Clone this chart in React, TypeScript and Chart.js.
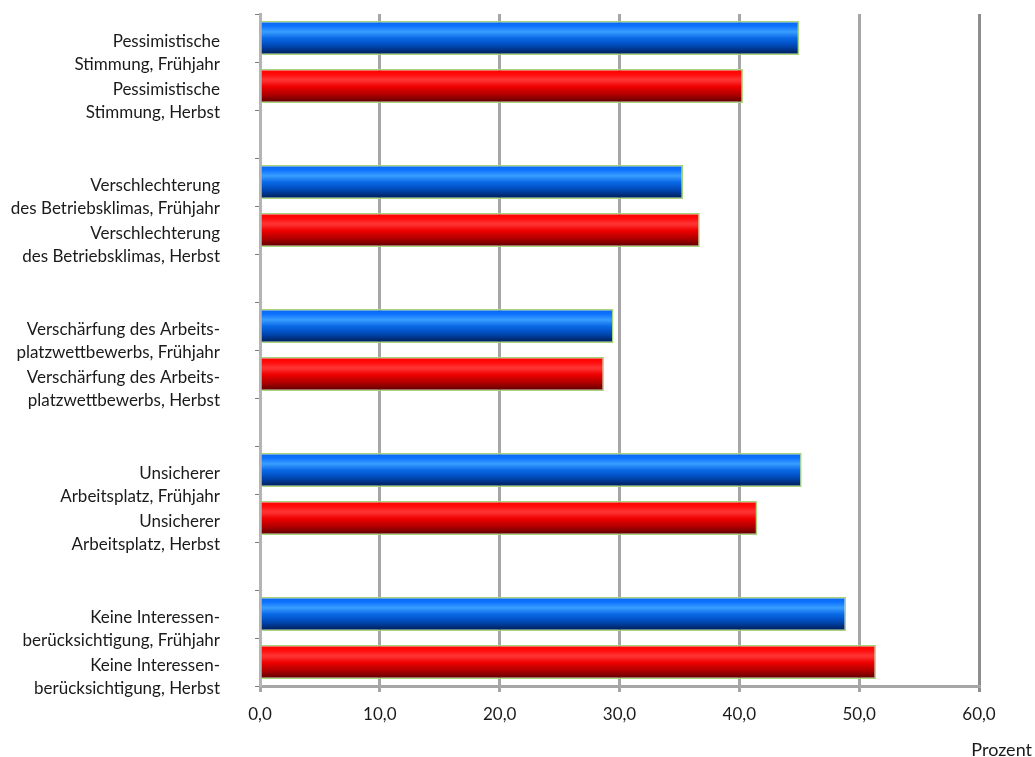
import React, { useEffect, useRef } from 'react';
import { Chart, registerables } from 'chart.js';

Chart.register(...registerables);

// ---- data ----
const groupLine1 = ['Pessimistische', 'Verschlechterung', 'Verschärfung des Arbeits-', 'Unsicherer', 'Keine Interessen-'];
const groupLine2 = ['Stimmung', 'des Betriebsklimas', 'platzwettbewerbs', 'Arbeitsplatz', 'berücksichtigung'];
const seasons = ['Frühjahr', 'Herbst'];
const fruehjahr = [45.0, 35.3, 29.5, 45.2, 48.9];
const herbst = [40.3, 36.7, 28.7, 41.5, 51.4];
const xMin = 0;
const xMax = 60;
const xStep = 10;
const axisTitle = 'Prozent';

// build category list (with empty separator rows)
const labels: (string | string[])[] = [];
const blueData: (number | null)[] = [];
const redData: (number | null)[] = [];
groupLine1.forEach((l1, i) => {
  labels.push([l1, `${groupLine2[i]}, ${seasons[0]}`]);
  blueData.push(fruehjahr[i]);
  redData.push(null);
  labels.push([l1, `${groupLine2[i]}, ${seasons[1]}`]);
  blueData.push(null);
  redData.push(herbst[i]);
  if (i < groupLine1.length - 1) {
    labels.push('');
    blueData.push(null);
    redData.push(null);
  }
});

const BAR_PCT = 0.71;
const FONT = 'Lato';
const FS = 17;

const blueStops: [number, string][] = [
  [0, '#0863f2'],
  [0.15, '#0d73ff'],
  [0.32, '#3a9eff'],
  [0.5, '#0a6ae8'],
  [0.72, '#0049b8'],
  [0.9, '#002a73'],
  [1, '#001a4a'],
];
const redStops: [number, string][] = [
  [0, '#ff0000'],
  [0.15, '#ff0a0a'],
  [0.32, '#ff3535'],
  [0.52, '#ee0000'],
  [0.75, '#b00000'],
  [0.9, '#7a0000'],
  [1, '#520000'],
];

function gradient(stops: [number, string][]) {
  return (c: any) => {
    const chart = c.chart;
    const y = chart.scales && chart.scales.y;
    if (!y || c.dataIndex == null || !chart.chartArea) return stops[0][1];
    const center = y.getPixelForValue(c.dataIndex);
    const band = y.height / labels.length;
    const half = (band * BAR_PCT) / 2;
    const g = chart.ctx.createLinearGradient(0, center - half, 0, center + half);
    stops.forEach(([o, col]) => g.addColorStop(o, col));
    return g;
  };
}

const fmt = (v: number) => v.toFixed(1).replace('.', ',');

export default function App() {
  const ref = useRef<HTMLCanvasElement>(null);
  useEffect(() => {
    if (!ref.current) return;
    const titlePlugin = {
      id: 'prozentTitle',
      afterDraw(chart: any) {
        const ctx = chart.ctx;
        ctx.save();
        ctx.font = `18px ${FONT}`;
        ctx.fillStyle = '#1a1a1a';
        ctx.textAlign = 'right';
        ctx.textBaseline = 'alphabetic';
        ctx.fillText(axisTitle, 1032, 756);
        ctx.restore();
      },
    };
    const chart = new Chart(ref.current, {
      type: 'bar',
      data: {
        labels,
        datasets: [
          {
            label: seasons[0],
            data: blueData,
            backgroundColor: gradient(blueStops),
            borderColor: '#a9d47e',
            borderWidth: 1.5,
            grouped: false,
            skipNull: true,
            barPercentage: BAR_PCT,
            categoryPercentage: 1,
          } as any,
          {
            label: seasons[1],
            data: redData,
            backgroundColor: gradient(redStops),
            borderColor: '#a9d47e',
            borderWidth: 1.5,
            grouped: false,
            skipNull: true,
            barPercentage: BAR_PCT,
            categoryPercentage: 1,
          } as any,
        ],
      },
      options: {
        indexAxis: 'y',
        animation: false,
        responsive: true,
        maintainAspectRatio: false,
        layout: { padding: { top: 14, right: 56, left: 0, bottom: 0 } },
        plugins: {
          legend: { display: false },
          tooltip: { enabled: false },
          title: { display: false },
        },
        scales: {
          x: {
            type: 'linear',
            min: xMin,
            max: xMax,
            ticks: {
              stepSize: xStep,
              callback: (v: any) => fmt(Number(v)),
              font: { family: FONT, size: FS, lineHeight: 1.2 },
              color: '#1a1a1a',
              padding: 12,
              maxRotation: 0,
            },
            grid: {
              color: (c: any) => (c.tick && c.tick.value === xMax ? '#8e8e8e' : '#a6a6a6'),
              lineWidth: 3,
              drawTicks: true,
              tickLength: 6,
            },
            border: { display: true, color: '#a6a6a6', width: 3 },
            afterFit: (s: any) => {
              s.height = 71;
              s.paddingLeft = 0;
              s.paddingRight = 0;
            },
          },
          y: {
            type: 'category',
            offset: true,
            ticks: {
              autoSkip: false,
              font: { family: FONT, size: FS, lineHeight: 1.3 },
              color: '#1a1a1a',
              padding: 35,
              labelOffset: 15,
            },
            grid: {
              offset: true,
              drawOnChartArea: false,
              drawTicks: true,
              tickLength: 5,
              color: '#7a7a7a',
              lineWidth: 1,
            },
            border: { display: true, color: '#b4b4b4', width: 3 },
            afterFit: (s: any) => {
              s.width = 260;
              s.paddingTop = 0;
              s.paddingBottom = 0;
            },
          },
        },
      } as any,
      plugins: [titlePlugin],
    });
    return () => chart.destroy();
  }, []);

  return (
    <div style={{ position: 'fixed', left: 0, top: 0, width: 1035, height: 757, background: '#fff' }}>
      <canvas ref={ref} />
    </div>
  );
}
